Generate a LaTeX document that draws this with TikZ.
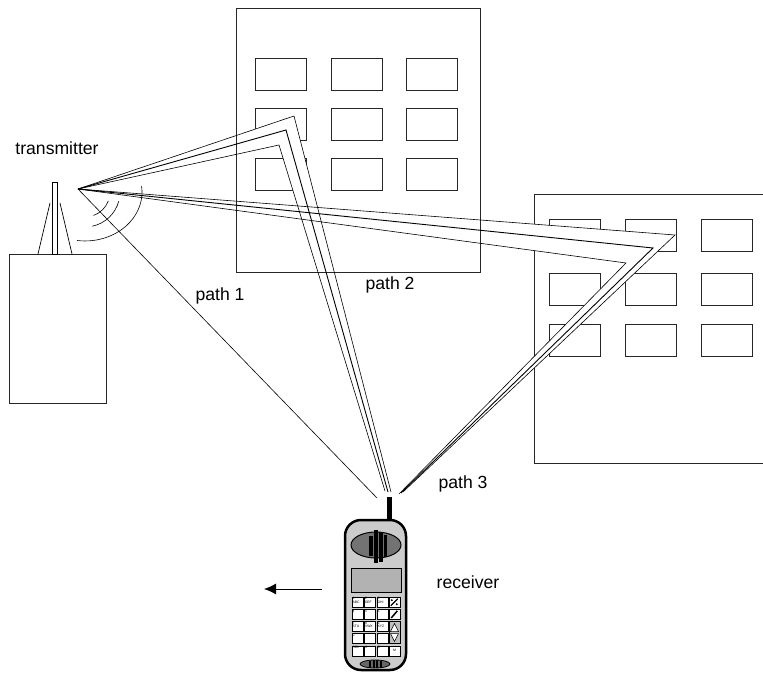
\documentclass[tikz,border=0pt]{standalone}
\usepackage{fontspec}
\setmainfont{Liberation Sans}
\usetikzlibrary{arrows.meta}

\tikzset{
  lbl/.style={font=\fontsize{17.6}{20}\selectfont, inner sep=0pt},
  wall/.style={line width=0.9pt, draw=black!85},
  ray/.style={line width=0.6pt},
  key/.style={draw, fill=white, line width=0.4pt, minimum width=11pt, minimum height=10pt, inner sep=0pt},
  keytxt/.style={font=\fontsize{3.4}{3.6}\selectfont, inner sep=0.5pt, align=left},
}

\begin{document}
\begin{tikzpicture}[x=1pt, y=1pt]
  \useasboundingbox (0,0) rectangle (763,673);

  % buildings
  \draw[wall] (9,270) rectangle (106,419);
  \foreach \x in {255,331,406}
    \foreach \y in {483,533,583}
      \draw[wall] (\x,\y) rectangle ++(51,32);
  \draw[wall] (763,479) -- (534,479) -- (534,210) -- (763,210);
  \foreach \x in {549,625,701}
    \foreach \y in {317,368,422}
      \draw[wall] (\x,\y) rectangle ++(51,32);

  % mast on the left building
  \draw[line width=0.7pt] (50,470) -- (38,419) (60,470) -- (72,419);
  \draw[line width=0.8pt, fill=white] (52,419) rectangle (57,491);

  % end points of the three paths
  \coordinate (tx) at (78,484);
  \coordinate (rx1) at (377,175);
  \coordinate (b2o) at (294,557); \coordinate (e2o) at (391,181);
  \coordinate (b2m) at (286,543); \coordinate (e2m) at (388,181);
  \coordinate (b2i) at (279,528); \coordinate (e2i) at (385,182);
  \coordinate (b3o) at (675,438); \coordinate (e3o) at (403,181);
  \coordinate (b3m) at (653,425); \coordinate (e3m) at (401,180);
  \coordinate (b3i) at (626,410); \coordinate (e3i) at (399,179);

  % reflected paths hide the windows behind them
  \fill[white] (tx) -- (b3o) -- (e3o) -- (e3i) -- (b3i) -- cycle;
  \fill[white] (tx) -- (b2o) -- (e2o) -- (e2i) -- (b2i) -- cycle;
  \draw[wall] (236,401) rectangle (480,665);

  % radio waves
  \draw[line width=0.6pt] ([shift={(-70:25)}]85,481) arc[start angle=-70, end angle=-21, radius=25];
  \draw[line width=0.6pt] ([shift={(-78:35)}]85,481) arc[start angle=-78, end angle=-15, radius=35];
  \draw[line width=0.6pt] (85,481) ++(-7.9,-48.5) arc[start angle=-98, end angle=7, x radius=57, y radius=49];

  % direct path
  \draw[ray] (tx) -- (rx1);

  % reflected paths
  \draw[ray] (tx) -- (b3o) -- (e3o);
  \draw[ray, line width=0.9pt] (tx) -- (b3m) -- (e3m);
  \draw[ray] (tx) -- (b3i) -- (e3i);
  \draw[ray] (tx) -- (b2o) -- (e2o);
  \draw[ray, line width=0.9pt] (tx) -- (b2m) -- (e2m);
  \draw[ray] (tx) -- (b2i) -- (e2i);

  % labels
  \node[lbl] (txlbl) at (57,525) {transmitter};
  \node[lbl] (lbl1) at (220,377) {path 1};
  \node[lbl] (lbl2) at (390,388) {path 2};
  \node[lbl] (lbl3) at (463,189) {path 3};
  \node[lbl] (rxlbl) at (468,91) {receiver};

  % direction of motion
  \coordinate (mvs) at (322,84);
  \coordinate (mve) at (264,84);
  \draw[-{Latex[length=12pt,width=11pt]}, line width=0.9pt] (mvs) -- (mve);

  % handset
  \fill (387,150) rectangle (392,176);
  \draw[line width=2.5pt, fill=black!20, rounded corners=16pt] (345,3) rectangle (406,153);
  \draw[line width=1pt, fill=black!55] (376,128) ellipse [x radius=25, y radius=13];
  \fill (369,117) rectangle (373,137);
  \fill (374,110) rectangle (378,143);
  \fill (379,111) rectangle (383,141);
  \fill (384,116) rectangle (387,138);
  \draw[line width=1pt, fill=black!30] (351,81) rectangle (401,105);

  % keypad
  \foreach \t [count=\i from 0] in {1\\ABC, 2\\DEF, 3\\GHI, 4, 5, 6, 7\\STU, 8\\VWX, 9\\XYZ, 0, ., -, RCL, X, C} {
    \pgfmathtruncatemacro{\r}{int(\i/3)}
    \pgfmathtruncatemacro{\c}{mod(\i,3)}
    \node[key] (k\i) at ({357.5+12.5*\c},{71-12.2*\r}) {};
    \node[keytxt, anchor=north west] at (k\i.north west) {\t};
  }
  \node[key] (kend) at (394.5,71) {};
  \draw[line width=1.2pt] (kend.south west) ++(2,1.5) -- ++(7,7);
  \fill (kend.south west) ++(3,7) circle (1.1);
  \fill (kend.south west) ++(8,3) circle (1.1);
  \node[key] (kcall) at (394.5,58.8) {};
  \draw[line width=1.5pt] (kcall.south west) ++(2.5,1.5) -- ++(6,7);
  \draw[line width=0.4pt, fill=black!25] (389,29.4) rectangle (400,51.6);
  \draw[line width=0.5pt, fill=white] (390.5,41.5) -- (398.5,41.5) -- (394.5,49.5) -- cycle;
  \draw[line width=0.5pt, fill=white] (390.5,39.5) -- (398.5,39.5) -- (394.5,31.5) -- cycle;
  \node[key] (kmem) at (394.5,22.2) {};
  \node[keytxt] at (kmem) {M};

  % microphone
  \draw[line width=0.8pt, fill=black!60] (375,9) ellipse [x radius=15, y radius=4];
  \fill (369,5.5) rectangle (371,12.5);
  \fill (372.5,5.2) rectangle (374.5,12.8);
  \fill (376,5.2) rectangle (378,12.8);
  \fill (379.5,5.5) rectangle (381.5,12.5);
\end{tikzpicture}
\end{document}
